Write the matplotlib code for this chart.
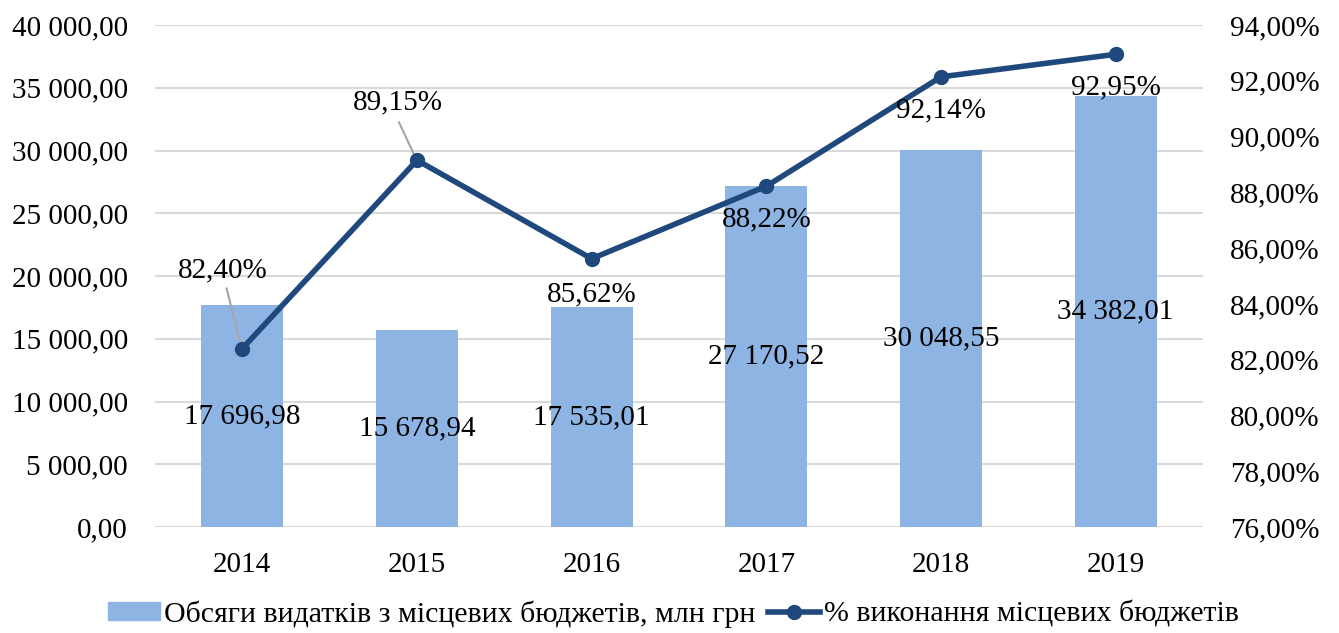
import matplotlib
matplotlib.use("Agg")
import matplotlib.pyplot as plt
from matplotlib.lines import Line2D
from matplotlib.patches import Patch

years = ["2014", "2015", "2016", "2017", "2018", "2019"]
spending = [17696.98, 15678.94, 17535.01, 27170.52, 30048.55, 34382.01]
execution = [82.40, 89.15, 85.62, 88.22, 92.14, 92.95]
bar_label = "Обсяги видатків з місцевих бюджетів, млн грн"
line_label = "% виконання місцевих бюджетів"

def fmt_num(v):
    s = f"{v:,.2f}"
    return s.replace(",", " ").replace(".", ",")

def fmt_pct(v):
    return f"{v:.2f}%".replace(".", ",")

plt.rcParams["font.family"] = ["Liberation Serif", "DejaVu Serif"]
FS = 21
BAR_C = "#8EB4E3"
LINE_C = "#1F497D"
GRID_C = "#D9D9D9"

fig = plt.figure(figsize=(13.39, 6.33), dpi=100)
ax = fig.add_axes([155/1339, 1-527/633, (1203-155)/1339, (527-25)/633])
x = list(range(len(years)))
ax.bar(x, spending, width=0.47, color=BAR_C, zorder=2)
ax.set_xlim(-0.5, 5.5)
ax.set_ylim(0, 40000)
ax.set_yticks(range(0, 40001, 5000))
ax.set_yticklabels([fmt_num(v) for v in range(0, 40001, 5000)], fontsize=FS)
ax.set_xticks(x)
ax.set_xticklabels(years, fontsize=FS)
ax.yaxis.grid(True, color=GRID_C, linewidth=1.5, zorder=0)
ax.set_axisbelow(True)
for s in ax.spines.values():
    s.set_visible(False)
ax.tick_params(axis="y", length=0, pad=19.5, colors="#000000")
ax.tick_params(axis="x", length=0, pad=18, colors="#000000")

for xi, v in zip(x, spending):
    ax.text(xi, v/2, fmt_num(v), ha="center", va="center", fontsize=FS, zorder=5)

ax2 = ax.twinx()
ax2.set_ylim(76, 94)
ax2.set_yticks(range(76, 95, 2))
ax2.set_yticklabels([fmt_pct(v) for v in range(76, 95, 2)], fontsize=FS)
for s in ax2.spines.values():
    s.set_visible(False)
ax2.tick_params(axis="y", length=0, pad=19.5)
ax2.plot(x, execution, color=LINE_C, linewidth=4, marker="o", markersize=10, zorder=4)

# data labels for line: (dx, dy, leader top dx, leader top dy)
offsets = [(-0.11, 2.8, -0.09, 2.15), (-0.11, 2.08, -0.103, 1.36),
           (0, -1.29, None, None), (0, -1.18, None, None), (0, -1.2, None, None), (0, -1.2, None, None)]
for xi, v, (dx, dy, lx, ly) in zip(x, execution, offsets):
    ax2.text(xi + dx, v + dy, fmt_pct(v), ha="center", va="center", fontsize=FS, zorder=6)
    if lx is not None:
        ax2.plot([xi + lx, xi - 0.005], [v + ly, v + 0.05],
                 color="#A6A6A6", linewidth=1.5, zorder=3)

handles = [Patch(color=BAR_C), Line2D([0], [0], color=LINE_C, linewidth=4, marker="o", markersize=10)]
fig.legend(handles, [bar_label, line_label], loc="center", bbox_to_anchor=(0.503, 1-614/633),
           ncol=2, frameon=False, fontsize=21.5, handlelength=1.75, handleheight=0.55,
           handletextpad=0.15, columnspacing=0.4)

fig.savefig("out.png", dpi=100)
